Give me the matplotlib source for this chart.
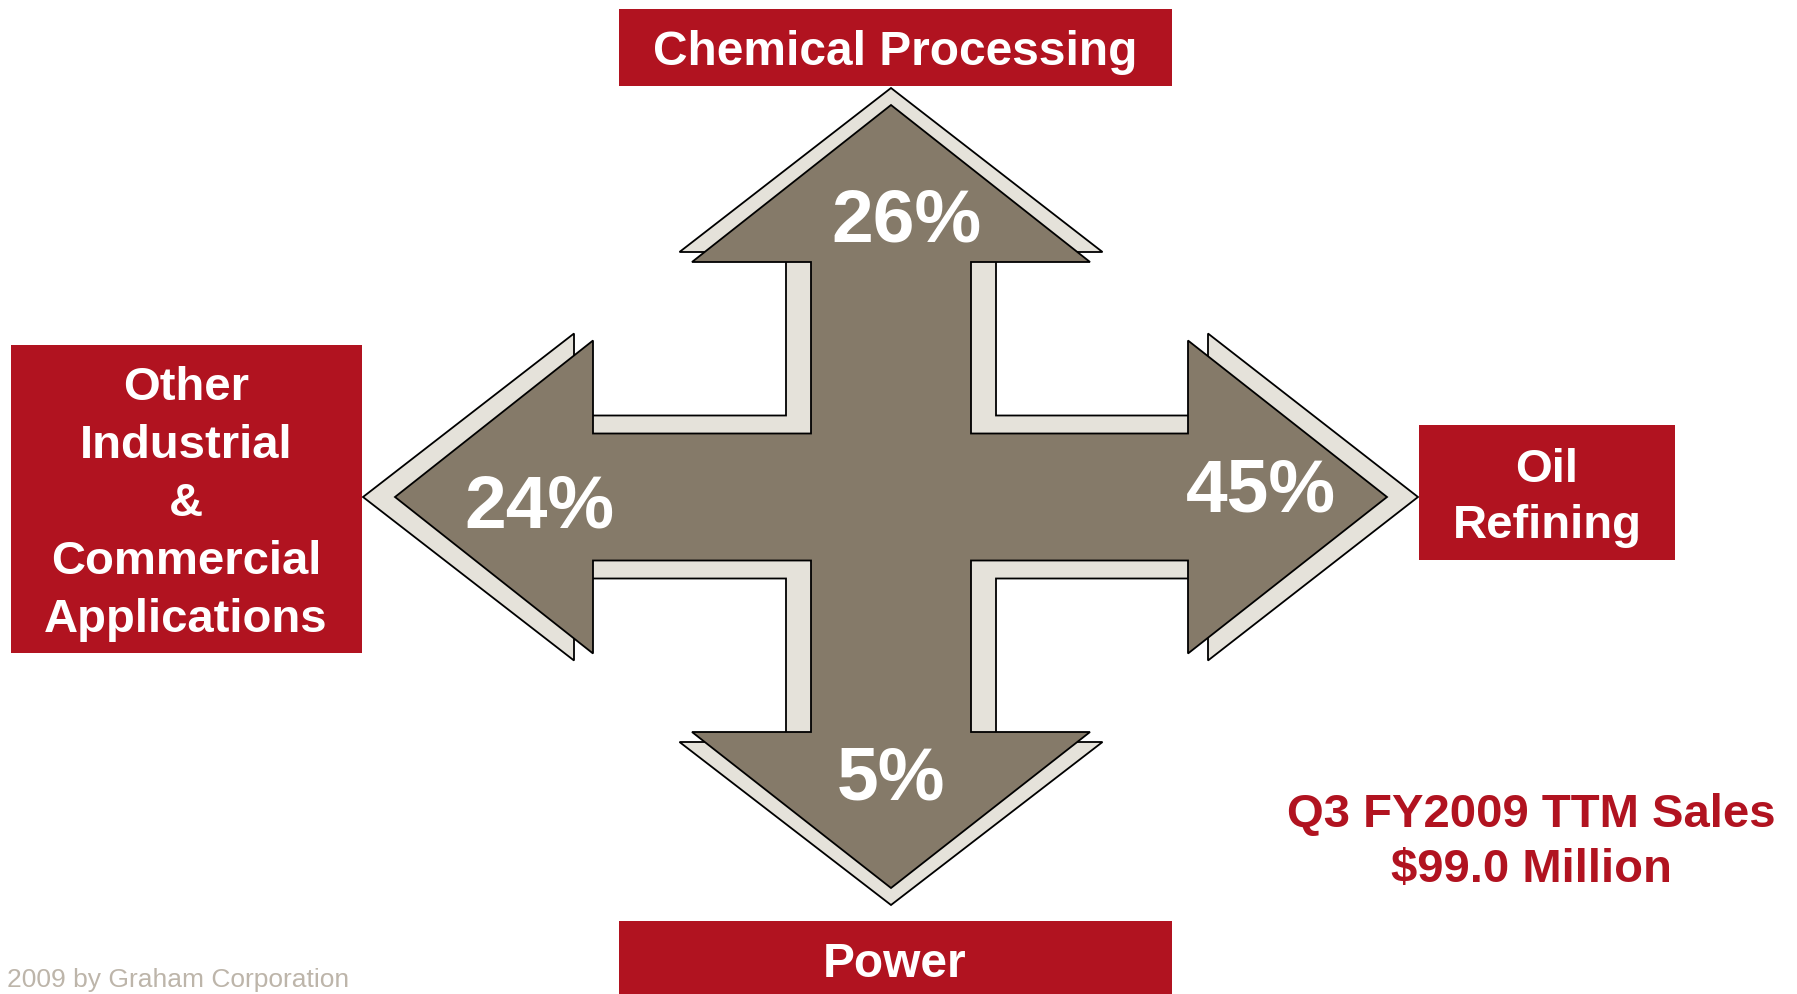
import matplotlib.pyplot as plt
from matplotlib.patches import Polygon, Rectangle

plt.rcParams['font.family'] = ['Liberation Sans', 'DejaVu Sans']

# data
segments = ["Chemical Processing", "Other\nIndustrial\n&\nCommercial\nApplications", "Oil\nRefining", "Power"]
shares = [26, 24, 45, 5]
total_sales = "Q3 FY2009 TTM Sales\n$99.0 Million"
footer = "2009 by Graham Corporation"

RED = "#B11320"
DARK = "#857A69"
LIGHT = "#E5E2DA"

W, H = 1797, 994
fig = plt.figure(figsize=(W / 100, H / 100), dpi=100)
ax = fig.add_axes([0, 0, 1, 1])
ax.set_xlim(0, W)
ax.set_ylim(H, 0)
ax.axis('off')


def cross(cx, cy, top, bot, left, right, vs, vh, hs, hh):
    # top/bot/left/right = (head base, tip)
    tb, tt = top
    bb, bt = bot
    lb, lt = left
    rb, rt = right
    return [(cx, tt), (cx + vh, tb), (cx + vs, tb), (cx + vs, cy - hs),
            (rb, cy - hs), (rb, cy - hh), (rt, cy), (rb, cy + hh), (rb, cy + hs),
            (cx + vs, cy + hs), (cx + vs, bb), (cx + vh, bb), (cx, bt),
            (cx - vh, bb), (cx - vs, bb), (cx - vs, cy + hs),
            (lb, cy + hs), (lb, cy + hh), (lt, cy), (lb, cy - hh), (lb, cy - hs),
            (cx - vs, cy - hs), (cx - vs, tb), (cx - vh, tb)]


back = cross(891, 497, (252, 88), (742, 905), (574, 363), (1208, 1418), 105, 211.5, 81.5, 163.5)
front = cross(891, 497, (262, 105), (732, 888), (593, 395), (1188, 1387), 80, 199, 63.5, 156.5)
ax.add_patch(Polygon(back, closed=True, fc=LIGHT, ec='black', lw=1.3, joinstyle='miter'))
ax.add_patch(Polygon(front, closed=True, fc=DARK, ec='black', lw=1.3, joinstyle='miter'))

# label boxes: (x0, y0, x1, y1), text center x, first baseline, line step, font size
boxes = [((619, 9, 1172, 86), 895, 65, 0, 34.5),
         ((11, 345, 362, 653), 186, 400, 58, 34),
         ((1419, 425, 1675, 560), 1547, 482, 56, 34),
         ((619, 921, 1172, 1000), 895, 977, 0, 34.5)]
for label, (rect, tx, base, step, fs) in zip(segments, boxes):
    x0, y0, x1, y1 = rect
    ax.add_patch(Rectangle((x0, y0), x1 - x0, y1 - y0, fc=RED, ec='none'))
    for i, line in enumerate(label.split("\n")):
        ax.text(tx, base + i * step, line, color='white', fontsize=fs, fontweight='bold',
                ha='center', va='baseline')

# percentages on the arrows
pct_pos = [(907, 242), (539, 527), (1261, 512), (891, 800)]
for v, (px, py) in zip(shares, pct_pos):
    ax.text(px, py, f"{v}%", color='white', fontsize=54, fontweight='bold',
            ha='center', va='baseline')

for i, line in enumerate(total_sales.split("\n")):
    ax.text(1531, 827 + i * 55, line, color=RED, fontsize=34, fontweight='bold',
            ha='center', va='baseline')

ax.text(7, 987, footer, color="#BDB5AA", fontsize=19, ha='left', va='baseline')

fig.savefig("out.png", dpi=100)
